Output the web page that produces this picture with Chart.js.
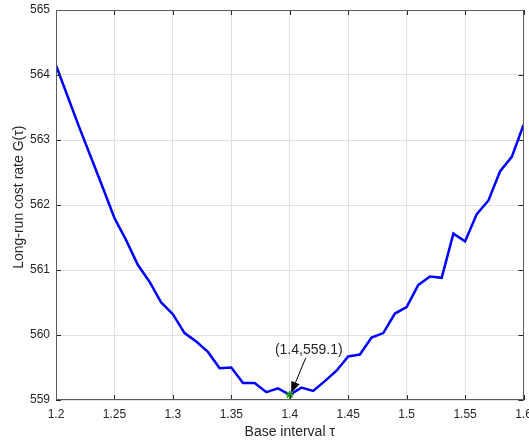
<!DOCTYPE html>
<html>
<head>
<meta charset="utf-8">
<script src="https://cdn.jsdelivr.net/npm/chart.js@4.4.0/dist/chart.umd.min.js"></script>
<style>
  html, body { margin: 0; padding: 0; background: #ffffff; }
  #wrap { width: 529px; height: 444px; }
</style>
</head>
<body>
<div id="wrap"><canvas id="c" width="529" height="444"></canvas></div>
<script>
// ---- data ----
const tauValues = [1.20, 1.21, 1.22, 1.23, 1.24, 1.25, 1.26, 1.27, 1.28, 1.29,
                   1.30, 1.31, 1.32, 1.33, 1.34, 1.35, 1.36, 1.37, 1.38, 1.39,
                   1.40, 1.41, 1.42, 1.43, 1.44, 1.45, 1.46, 1.47, 1.48, 1.49,
                   1.50, 1.51, 1.52, 1.53, 1.54, 1.55, 1.56, 1.57, 1.58, 1.59, 1.60];
const costValues = [564.15, 563.67, 563.19, 562.73, 562.27, 561.80, 561.46, 561.08, 560.82, 560.50,
                    560.32, 560.03, 559.90, 559.74, 559.49, 559.50, 559.26, 559.26, 559.12, 559.18,
                    559.08, 559.19, 559.14, 559.29, 559.45, 559.67, 559.70, 559.96, 560.03, 560.33,
                    560.43, 560.77, 560.90, 560.88, 561.56, 561.44, 561.86, 562.07, 562.52, 562.74, 563.23];
const minPoint = { x: 1.40, y: 559.08 };
const minLabel = '(1.4,559.1)';
const xTicks = [1.2, 1.25, 1.3, 1.35, 1.4, 1.45, 1.5, 1.55, 1.6];
const yTicks = [559, 560, 561, 562, 563, 564, 565];
const xTitle = 'Base interval τ';
const yTitle = '    Long-run cost rate G(τ)';

const FONT = 'Liberation Sans, Arial, Helvetica, sans-serif';
const TEXT = '#262626';

const lineData = tauValues.map((t, i) => ({ x: t, y: costValues[i] }));

// inward tick marks and box, MATLAB style
const boxTicks = {
  id: 'boxTicks',
  afterDatasetsDraw(chart) {
    const { ctx, chartArea: a, scales: { x, y } } = chart;
    ctx.save();
    ctx.strokeStyle = '#262626';
    ctx.lineWidth = 1;
    ctx.beginPath();
    const L = 5;
    xTicks.forEach(v => {
      const px = Math.round(x.getPixelForValue(v)) + 0.5;
      ctx.moveTo(px, a.bottom); ctx.lineTo(px, a.bottom - L);
      ctx.moveTo(px, a.top); ctx.lineTo(px, a.top + L);
    });
    yTicks.forEach(v => {
      const py = Math.round(y.getPixelForValue(v)) + 0.5;
      ctx.moveTo(a.left, py); ctx.lineTo(a.left + L, py);
      ctx.moveTo(a.right, py); ctx.lineTo(a.right - L, py);
    });
    ctx.stroke();
    ctx.strokeStyle = '#5a5a5a';
    ctx.strokeRect(Math.round(a.left) + 0.5, Math.round(a.top) + 0.5,
                   Math.round(a.right - a.left) - 1, Math.round(a.bottom - a.top) - 1);
    ctx.restore();
  }
};

// data-tip annotation with arrow
const tipAnnot = {
  id: 'tipAnnot',
  afterDatasetsDraw(chart) {
    const { ctx, scales: { x, y } } = chart;
    const px = x.getPixelForValue(minPoint.x);
    const py = y.getPixelForValue(minPoint.y);
    ctx.save();
    ctx.font = '14px ' + FONT;
    ctx.fillStyle = TEXT;
    ctx.textAlign = 'center';
    ctx.textBaseline = 'middle';
    ctx.fillText(minLabel, px + 19, py - 45);
    const tipX = px + 1.5, tipY = py - 2;
    const tailX = px + 16, tailY = py - 37;
    const ang = Math.atan2(tipY - tailY, tipX - tailX);
    const hl = 11, hw = 4.5;
    const bx = tipX - hl * Math.cos(ang), by = tipY - hl * Math.sin(ang);
    ctx.strokeStyle = '#000';
    ctx.lineWidth = 1;
    ctx.beginPath();
    ctx.moveTo(tailX, tailY);
    ctx.lineTo(bx, by);
    ctx.stroke();
    ctx.fillStyle = '#000';
    ctx.beginPath();
    ctx.moveTo(tipX, tipY);
    ctx.lineTo(bx + hw * Math.sin(ang), by - hw * Math.cos(ang));
    ctx.lineTo(bx - hw * Math.sin(ang), by + hw * Math.cos(ang));
    ctx.closePath();
    ctx.fill();
    ctx.restore();
  }
};

const fmt = v => String(parseFloat(Number(v).toFixed(2)));

new Chart(document.getElementById('c'), {
  type: 'line',
  data: {
    datasets: [
      {
        data: lineData,
        borderColor: '#0000ff',
        borderWidth: 2.5,
        pointRadius: 0,
        tension: 0,
        fill: false,
        order: 2
      },
      {
        data: [minPoint],
        showLine: false,
        pointStyle: 'star',
        pointRadius: 4,
        borderColor: '#1a9a1a',
        backgroundColor: '#1a9a1a',
        pointBorderWidth: 1.5,
        order: 1
      }
    ]
  },
  options: {
    responsive: false,
    animation: false,
    layout: { padding: { top: 10, right: 5, left: 0, bottom: 0 } },
    plugins: { legend: { display: false }, tooltip: { enabled: false } },
    scales: {
      x: {
        type: 'linear',
        min: 1.2, max: 1.6,
        afterBuildTicks: s => { s.ticks = xTicks.map(v => ({ value: v })); },
        afterFit: s => { s.height = 44; s.paddingLeft = 0; s.paddingRight = 0; },
        grid: { color: '#e0e0e0', drawTicks: false, lineWidth: 1 },
        border: { display: false },
        ticks: { callback: fmt, color: TEXT, font: { family: FONT, size: 12 }, padding: 7, maxRotation: 0, autoSkip: false },
        title: { display: true, text: xTitle, color: TEXT, font: { family: FONT, size: 14 }, padding: { top: 0, bottom: 3 } }
      },
      y: {
        type: 'linear',
        min: 559, max: 565,
        afterBuildTicks: s => { s.ticks = yTicks.map(v => ({ value: v })); },
        afterFit: s => { s.width = 56; s.paddingTop = 0; s.paddingBottom = 0; },
        grid: { color: '#e0e0e0', drawTicks: false, lineWidth: 1 },
        border: { display: false },
        ticks: { callback: fmt, color: TEXT, font: { family: FONT, size: 12 }, padding: 6 },
        title: { display: true, text: yTitle, color: TEXT, font: { family: FONT, size: 14 }, padding: { top: 11, bottom: 0 } }
      }
    }
  },
  plugins: [boxTicks, tipAnnot]
});
</script>
</body>
</html>
